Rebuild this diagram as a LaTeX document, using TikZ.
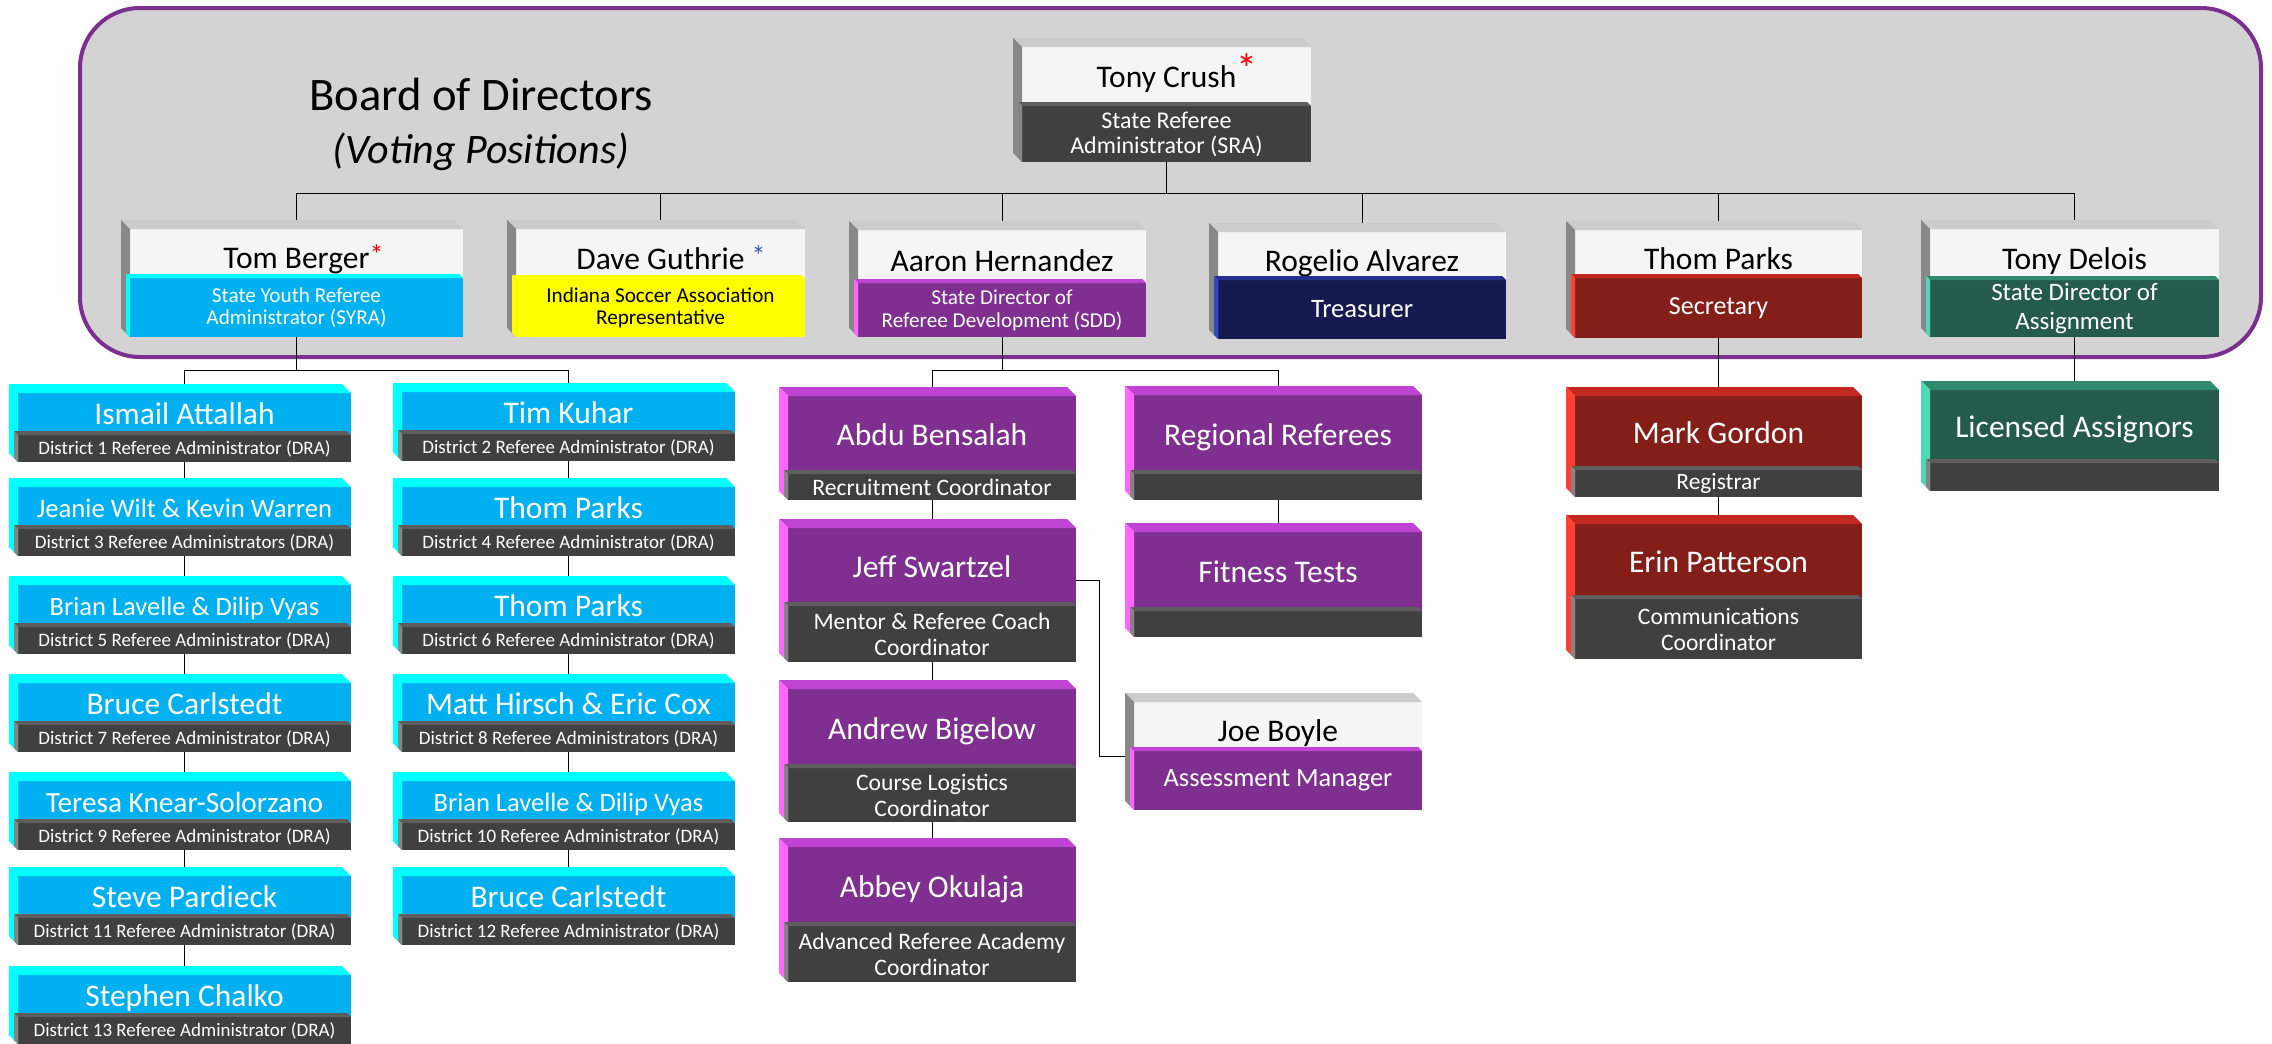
\documentclass[tikz,border=0pt]{standalone}
\usepackage{fontspec}
\setmainfont{Carlito}
\usetikzlibrary{backgrounds}

\definecolor{boardgray}{HTML}{D3D3D3}
\definecolor{boardline}{HTML}{7B2F8E}
\definecolor{starblue}{HTML}{2F5FB8}
\definecolor{whface}{HTML}{F5F5F5}\definecolor{whtop}{HTML}{CCCCCC}\definecolor{whside}{HTML}{888888}
\definecolor{dkface}{HTML}{404040}\definecolor{dktop}{HTML}{5E5E5E}\definecolor{dkside}{HTML}{858585}
\definecolor{cyface}{HTML}{00B0F0}\definecolor{cytop}{HTML}{00FFFF}\definecolor{cyside}{HTML}{00FFFF}
\definecolor{puface}{HTML}{7F2F8F}\definecolor{putop}{HTML}{C044D4}\definecolor{puside}{HTML}{FF66FF}
\definecolor{rdface}{HTML}{831F18}\definecolor{rdtop}{HTML}{C2281F}\definecolor{rdside}{HTML}{FF4030}
\definecolor{grface}{HTML}{245B4D}\definecolor{grtop}{HTML}{2F8A6F}\definecolor{grside}{HTML}{4FD8B6}
\definecolor{nvface}{HTML}{151B50}\definecolor{nvtop}{HTML}{25308A}\definecolor{nvside}{HTML}{3447C8}
\definecolor{yeface}{HTML}{FFFF00}\definecolor{yetop}{HTML}{FFFF00}\definecolor{yeside}{HTML}{FFFF00}

\newcommand{\fsz}[2]{\fontsize{#1pt}{#2pt}\selectfont}
\newcommand{\bev}{9}
\tikzset{
  namebox/.style={inner sep=0pt,outer sep=0pt,align=flush center,text depth=0pt,font=\fsz{15.75}{17}},
  titlebox/.style={inner sep=0pt,outer sep=0pt,align=flush center,font=\fsz{9.5}{10}},
  wh/.style={fill=whface,text=black},
  dk/.style={fill=dkface,text=white},
  cy/.style={fill=cyface,text=white},
  pu/.style={fill=puface,text=white},
  rd/.style={fill=rdface,text=white},
  gr/.style={fill=grface,text=white},
  nv/.style={fill=nvface,text=white},
  ye/.style={fill=yeface,text=black}
}
% card: id, front top left, width, name height, title height, name colours, title colours, name, title
\newcommand{\card}[9]{%
  \pgfmathsetlengthmacro{\cardw}{#3*0.5pt}%
  \pgfmathsetlengthmacro{\cardh}{#4*0.5pt}%
  \pgfmathsetlengthmacro{\cardt}{#5*0.5pt}%
  \node[namebox,#6,minimum width=\cardw,text width=\cardw,minimum height=\cardh,anchor=north west] (#1) at #2 {#8};
  \node[titlebox,#7,minimum width=\cardw,text width=\cardw,minimum height=\cardt,anchor=north west] (t#1) at (#1.south west) {#9};
  \fill[#6top] (#1.north west) -- (#1.north east) -- ++(-\bev,-\bev) -- ([shift={(-\bev,-\bev)}]#1.north west) -- cycle;
  \fill[#6side] (#1.north west) -- ([shift={(-\bev,-\bev)}]#1.north west) -- ([shift={(-\bev,-\bev)}]t#1.south west) -- (t#1.south west) -- cycle;
  \fill[#7top] (t#1.north west) -- (t#1.north east) -- ++(-4,-4) -- ([shift={(-4,-4)}]t#1.north west) -- cycle;
  \fill[#7side] (t#1.north west) -- ([shift={(-4,-4)}]t#1.north west) -- ([shift={(-4,-4)}]t#1.south west) -- (t#1.south west) -- cycle;
}

\begin{document}
\begin{tikzpicture}[x=0.5pt,y=-0.5pt,line width=1pt]
\useasboundingbox (0,0) rectangle (2272,1044);
\begin{scope}[on background layer]
\fill[white] (0,0) rectangle (2272,1044);
\draw[line width=2pt,draw=boardline,fill=boardgray,rounded corners=30pt] (80,8) rectangle (2261,357);
\end{scope}

\node[anchor=base,font=\fsz{23.3}{26}] (board) at (481,110) {Board of Directors};
\node[anchor=base,font=\fsz{21}{24}\itshape] (voting) at (481,163) {(Voting Positions)};

% board
\card{crush}{(1022,47)}{289}{59}{56}{wh}{dk}{Tony Crush\rlap{\textcolor{red}{\raisebox{2pt}[0pt][0pt]{\fsz{21}{21}*}}}}{\fsz{12}{12.5}State Referee\\Administrator (SRA)\par}
\begin{scope}[namebox/.append style={text height=15pt}]
\card{berger}{(130,229)}{333}{49}{59}{wh}{cy}{Tom Berger\rlap{\textcolor{red}{\raisebox{2pt}[0pt][0pt]{\fsz{14}{14}*}}}}{\fsz{10.6}{11}State Youth Referee\\Administrator (SYRA)\par}
\card{guthrie}{(516,229)}{289}{50}{58}{wh}{ye}{Dave Guthrie\rlap{\ \textcolor{starblue}{\raisebox{2pt}[0pt][0pt]{\fsz{14}{14}*}}}}{\fsz{10.6}{11}Indiana Soccer Association\\Representative\par}
\card{hernandez}{(858,230)}{288}{53}{54}{wh}{pu}{Aaron Hernandez}{\fsz{10.6}{11.5}State Director of\\Referee Development (SDD)\par}
\card{alvarez}{(1218,232)}{288}{48}{59}{wh}{nv}{Rogelio Alvarez}{\fsz{13.3}{14}Treasurer}
\card{parks}{(1575,230)}{287}{48}{60}{wh}{rd}{Thom Parks}{\fsz{13}{14}Secretary}
\card{delois}{(1930,229)}{289}{51}{57}{wh}{gr}{Tony Delois}{\fsz{12.5}{14.5}State Director of\\Assignment\par}
\card{boyle}{(1134,702)}{288}{49}{59}{wh}{pu}{Joe Boyle}{\fsz{13.2}{14}Assessment Manager}
\end{scope}

% districts
\card{d1}{(18,393)}{333}{42}{27}{cy}{dk}{Ismail Attallah}{District 1 Referee Administrator (DRA)}
\card{d3}{(18,487)}{333}{42}{27}{cy}{dk}{\fsz{13.35}{15}Jeanie Wilt \& Kevin Warren}{District 3 Referee Administrators (DRA)}
\card{d5}{(18,585)}{333}{42}{27}{cy}{dk}{\fsz{13.25}{15}Brian Lavelle \& Dilip Vyas}{District 5 Referee Administrator (DRA)}
\card{d7}{(18,683)}{333}{42}{27}{cy}{dk}{Bruce Carlstedt}{District 7 Referee Administrator (DRA)}
\card{d9}{(18,781)}{333}{42}{27}{cy}{dk}{\fsz{14.65}{16}Teresa Knear-Solorzano}{District 9 Referee Administrator (DRA)}
\card{d11}{(18,876)}{333}{42}{27}{cy}{dk}{Steve Pardieck}{District 11 Referee Administrator (DRA)}
\card{d13}{(18,975)}{333}{42}{27}{cy}{dk}{Stephen Chalko}{District 13 Referee Administrator (DRA)}
\card{d2}{(402,392)}{333}{42}{27}{cy}{dk}{Tim Kuhar}{District 2 Referee Administrator (DRA)}
\card{d4}{(402,487)}{333}{42}{27}{cy}{dk}{Thom Parks}{District 4 Referee Administrator (DRA)}
\card{d6}{(402,585)}{333}{42}{27}{cy}{dk}{Thom Parks}{District 6 Referee Administrator (DRA)}
\card{d8}{(402,683)}{333}{42}{27}{cy}{dk}{Matt Hirsch \& Eric Cox}{District 8 Referee Administrators (DRA)}
\card{d10}{(402,781)}{333}{42}{27}{cy}{dk}{\fsz{13.25}{15}Brian Lavelle \& Dilip Vyas}{District 10 Referee Administrator (DRA)}
\card{d12}{(402,876)}{333}{42}{27}{cy}{dk}{Bruce Carlstedt}{District 12 Referee Administrator (DRA)}

% referee development
\card{bensalah}{(788,396)}{288}{78}{26}{pu}{dk}{Abdu Bensalah}{\fsz{11.8}{13}Recruitment Coordinator}
\card{regional}{(1134,395)}{288}{79}{26}{pu}{dk}{Regional Referees}{}
\card{swartzel}{(788,528)}{288}{78}{56}{pu}{dk}{Jeff Swartzel}{\fsz{11.8}{13}Mentor \& Referee Coach\\Coordinator\par}
\card{fitness}{(1134,532)}{288}{79}{26}{pu}{dk}{Fitness Tests}{}
\card{bigelow}{(788,689)}{288}{79}{54}{pu}{dk}{Andrew Bigelow}{\fsz{11.8}{13}Course Logistics\\Coordinator\par}
\card{okulaja}{(788,847)}{288}{79}{56}{pu}{dk}{Abbey Okulaja}{\fsz{11.8}{13}Advanced Referee Academy\\Coordinator\par}

% secretary and assignment
\card{gordon}{(1575,396)}{287}{74}{27}{rd}{dk}{Mark Gordon}{\fsz{11.7}{13}Registrar}
\card{patterson}{(1575,524)}{287}{75}{60}{rd}{dk}{Erin Patterson}{\fsz{11.8}{13}Communications\\Coordinator\par}
\card{assignors}{(1930,390)}{289}{73}{28}{gr}{dk}{Licensed Assignors}{}

% connectors
\begin{scope}[on background layer]
\coordinate (bus) at (0,193);
\coordinate (low) at (0,370);
\draw (tcrush.south) -- (tcrush.south |- bus);
\draw (berger.north) |- (delois.north |- bus) -- (delois.north);
\foreach \n in {guthrie,hernandez,alvarez,parks}
  \draw (\n.north) -- (\n.north |- bus);
\draw (tberger.south) -- (tberger.south |- low);
\draw (d1.north) |- (d2.north |- low) -- (d2.north);
\foreach \a/\b in {d1/d3,d3/d5,d5/d7,d7/d9,d9/d11,d11/d13,d2/d4,d4/d6,d6/d8,d8/d10,d10/d12}
  \draw (t\a.south) -- (\b.north);
\draw (thernandez.south) -- (thernandez.south |- low);
\draw (bensalah.north) |- (regional.north |- low) -- (regional.north);
\draw (tbensalah.south) -- (swartzel.north);
\draw (tswartzel.south) -- (bigelow.north);
\draw (tbigelow.south) -- (okulaja.north);
\draw (tregional.south) -- (fitness.north);
\draw ([yshift=-6.5pt]swartzel.east) -- ++(23,0) |- ([yshift=-2.5pt]boyle.south west);
\draw (tparks.south) -- (gordon.north);
\draw (tgordon.south) -- (patterson.north);
\draw (tdelois.south) -- (assignors.north);
\end{scope}
\end{tikzpicture}
\end{document}
